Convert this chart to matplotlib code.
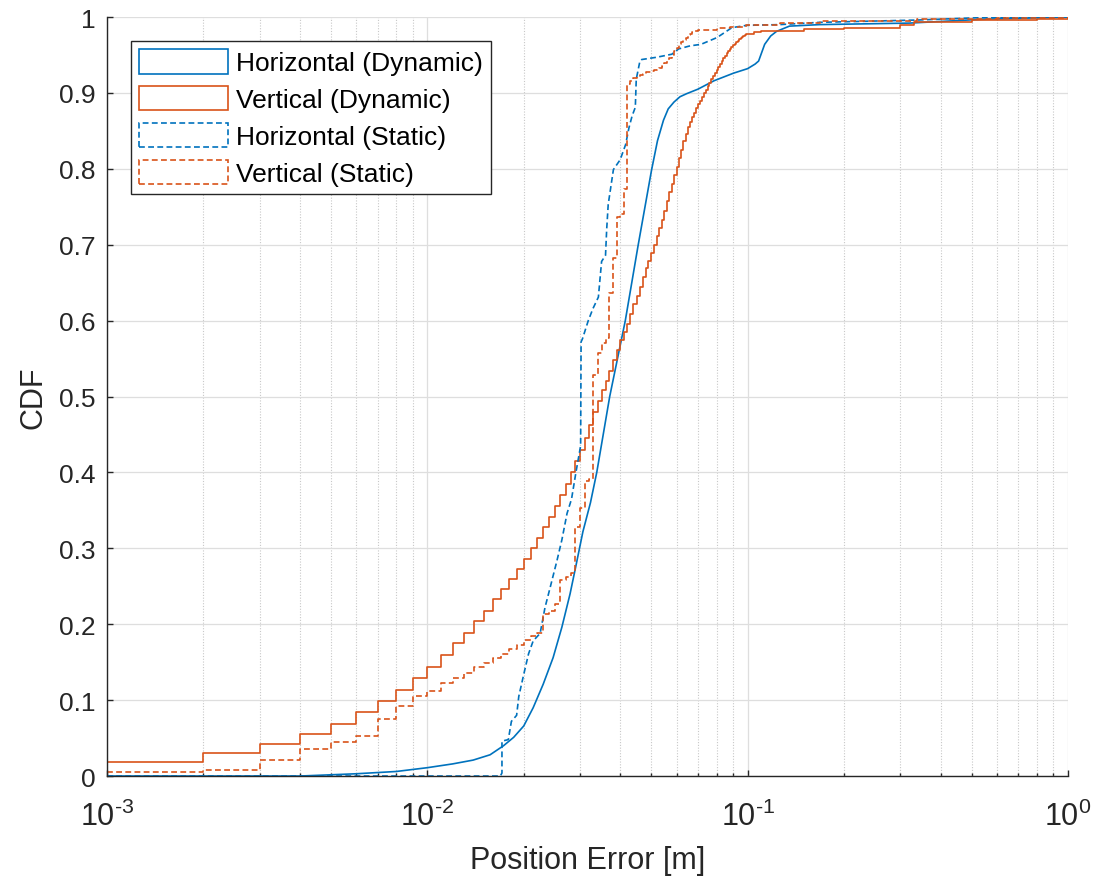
import numpy as np
import matplotlib
matplotlib.use("Agg")
import matplotlib.pyplot as plt
from matplotlib.patches import Patch

plt.rcParams['font.family'] = ['Liberation Sans', 'DejaVu Sans']
plt.rcParams['mathtext.fontset'] = 'custom'
plt.rcParams['mathtext.rm'] = 'Liberation Sans'
plt.rcParams['mathtext.it'] = 'Liberation Sans'

BLUE = '#0072BD'
ORANGE = '#D95319'
AXCOL = '#262626'

# vertical errors are quantised to whole millimetres -> CDF value at each mm
vert_dyn_mm = list(range(1, 101)) + [105, 110, 120, 150, 200, 300, 330, 500, 800, 1000]
vert_dyn_cdf = [
    0.018, 0.030, 0.042, 0.055, 0.069, 0.084, 0.099, 0.113, 0.129, 0.144,
    0.160, 0.175, 0.189, 0.204, 0.218, 0.233, 0.247, 0.260, 0.273, 0.286,
    0.300, 0.314, 0.328, 0.341, 0.356, 0.370, 0.385, 0.400, 0.415, 0.430,
    0.445, 0.463, 0.479, 0.494, 0.508, 0.521, 0.534, 0.548, 0.561, 0.574,
    0.585, 0.596, 0.609, 0.622, 0.633, 0.644, 0.658, 0.669, 0.678, 0.689,
    0.700, 0.711, 0.722, 0.733, 0.745, 0.757, 0.769, 0.780, 0.792, 0.803,
    0.814, 0.825, 0.836, 0.846, 0.855, 0.862, 0.868, 0.874, 0.880, 0.885,
    0.890, 0.895, 0.900, 0.904, 0.909, 0.913, 0.918, 0.922, 0.926, 0.930,
    0.934, 0.938, 0.942, 0.946, 0.949, 0.952, 0.955, 0.958, 0.961, 0.963,
    0.965, 0.967, 0.969, 0.971, 0.972, 0.974, 0.975, 0.976, 0.977, 0.978,
    0.980, 0.981, 0.982, 0.984, 0.986, 0.989, 0.994, 0.996, 0.998, 1.000,
]

vert_sta_mm = list(range(1, 71)) + [80, 88, 99, 126, 168, 337, 600, 1000]
vert_sta_cdf = [
    0.005, 0.008, 0.021, 0.036, 0.045, 0.053, 0.075, 0.092, 0.105, 0.112,
    0.123, 0.129, 0.136, 0.143, 0.149, 0.155, 0.161, 0.167, 0.173, 0.179,
    0.185, 0.189, 0.214, 0.217, 0.227, 0.258, 0.262, 0.268, 0.328, 0.353,
    0.389, 0.392, 0.528, 0.558, 0.570, 0.577, 0.636, 0.682, 0.736, 0.740,
    0.773, 0.912, 0.916, 0.920, 0.921, 0.923, 0.925, 0.927, 0.928, 0.929,
    0.930, 0.931, 0.933, 0.936, 0.939, 0.942, 0.946, 0.950, 0.955, 0.959,
    0.964, 0.967, 0.970, 0.973, 0.976, 0.978, 0.980, 0.981, 0.982, 0.983,
    0.985, 0.987, 0.990, 0.992, 0.995, 0.997, 0.999, 1.000,
]

# horizontal errors are not quantised, read as a curve
horiz_dyn_mm = [1, 4.0, 6.0, 8.0, 10.0, 12.0, 13.9, 15.7, 17.3, 18.6, 20.0, 21.4,
                23.0, 24.7, 26.3, 27.9, 29.2, 30.6, 32.3, 33.8, 37.1, 41.5, 45.5,
                50.1, 52.3, 54.6, 56.5, 58.9, 61.5, 64.5, 70.0, 78.5, 90.3, 100,
                105.5, 108.2, 113, 118, 123, 135, 168, 320, 540, 1000]
horiz_dyn_cdf = [0.0, 0.0, 0.003, 0.006, 0.011, 0.016, 0.021, 0.028, 0.040, 0.051,
                 0.066, 0.090, 0.121, 0.156, 0.196, 0.240, 0.280, 0.322, 0.360,
                 0.400, 0.500, 0.600, 0.699, 0.798, 0.837, 0.864, 0.879, 0.888,
                 0.895, 0.899, 0.905, 0.916, 0.926, 0.932, 0.938, 0.942, 0.964,
                 0.975, 0.981, 0.988, 0.990, 0.992, 0.997, 1.000]

horiz_sta_mm = [1, 16.9, 17.1, 17.1, 17.9, 18.3, 19.0, 19.3, 20.0, 20.7, 21.4, 22.5,
                23.3, 24.2, 25.4, 26.3, 27.3, 28.2, 29.1, 30.1, 30.2, 30.5, 31.8,
                32.9, 34.2, 34.6, 35.0, 36.0, 36.3, 36.7, 38.1, 40.0, 41.6, 42.6,
                43.6, 44.6, 44.9, 46.1, 46.7, 52.0, 58.0, 60.9, 66.1, 71.5, 80.3,
                89.3, 99.2, 126, 168, 337, 520, 1000]
horiz_sta_cdf = [0.0, 0.0, 0.004, 0.046, 0.048, 0.072, 0.080, 0.105, 0.134, 0.161,
                 0.178, 0.188, 0.222, 0.249, 0.284, 0.311, 0.346, 0.365, 0.400,
                 0.435, 0.572, 0.576, 0.600, 0.616, 0.631, 0.655, 0.678, 0.686,
                 0.720, 0.753, 0.799, 0.812, 0.832, 0.854, 0.870, 0.881, 0.918,
                 0.942, 0.944, 0.947, 0.951, 0.958, 0.962, 0.964, 0.973, 0.986,
                 0.989, 0.990, 0.993, 0.996, 0.999, 1.000]

labels = ['Horizontal (Dynamic)', 'Vertical (Dynamic)', 'Horizontal (Static)', 'Vertical (Static)']
y_ticks = [0, 0.1, 0.2, 0.3, 0.4, 0.5, 0.6, 0.7, 0.8, 0.9, 1]
y_ticklabels = ['0', '0.1', '0.2', '0.3', '0.4', '0.5', '0.6', '0.7', '0.8', '0.9', '1']
x_ticks = [1e-3, 1e-2, 1e-1, 1e0]
x_ticklabels = [r'$\mathdefault{10^{\text{-}3}}$', r'$\mathdefault{10^{\text{-}2}}$',
                r'$\mathdefault{10^{\text{-}1}}$', r'$\mathdefault{10^{0}}$']

fig = plt.figure(figsize=(10.93, 8.79), dpi=100)
ax = fig.add_axes([0.0979, 0.1160, 0.8792, 0.8635])

lw = 1.2
dash = (3.5, 2.0)
ax.plot(np.array(horiz_dyn_mm) / 1000, horiz_dyn_cdf, color=BLUE, lw=lw)
ax.plot(np.array(vert_dyn_mm) / 1000, vert_dyn_cdf, color=ORANGE, lw=lw, drawstyle='steps-post')
ax.plot(np.array(horiz_sta_mm) / 1000, horiz_sta_cdf, color=BLUE, lw=lw, linestyle=(0, dash))
ax.plot(np.array(vert_sta_mm) / 1000, vert_sta_cdf, color=ORANGE, lw=lw, linestyle=(0, dash),
        drawstyle='steps-post')

ax.set_xscale('log')
ax.set_xlim(1e-3, 1)
ax.set_ylim(0, 1)
ax.set_xticks(x_ticks)
ax.set_xticklabels(x_ticklabels)
ax.set_yticks(y_ticks)
ax.set_yticklabels(y_ticklabels)

ax.grid(True, which='major', color='#dedede', lw=0.9, linestyle='-')
ax.grid(True, which='minor', axis='x', color='#c8c8c8', lw=0.8, linestyle=(0, (1, 1.5)))
ax.set_axisbelow(True)

for side in ['top', 'right']:
    ax.spines[side].set_visible(False)
for side in ['left', 'bottom']:
    ax.spines[side].set_color(AXCOL)
    ax.spines[side].set_linewidth(1.0)

ax.tick_params(axis='both', which='major', direction='in', length=4, width=1.0,
               color=AXCOL, labelcolor=AXCOL, labelsize=19)
ax.tick_params(axis='x', which='minor', direction='in', length=2.5, width=1.0, color=AXCOL)
ax.tick_params(axis='x', which='major', pad=18, labelsize=22)
ax.tick_params(axis='y', which='major', pad=8)

ax.set_xlabel('Position Error [m]', fontsize=22, color=AXCOL, labelpad=9)
ax.set_ylabel('CDF', fontsize=22, color=AXCOL, labelpad=8)

handles = [
    Patch(facecolor='none', edgecolor=BLUE, lw=lw),
    Patch(facecolor='none', edgecolor=ORANGE, lw=lw),
    Patch(facecolor='none', edgecolor=BLUE, lw=lw, linestyle=(0, dash)),
    Patch(facecolor='none', edgecolor=ORANGE, lw=lw, linestyle=(0, dash)),
]
leg = ax.legend(handles, labels, loc='upper left', bbox_to_anchor=(0.025, 0.968),
                borderaxespad=0, fontsize=19, frameon=True, fancybox=False,
                edgecolor=AXCOL, framealpha=1, handlelength=3.37, handleheight=1.05,
                handletextpad=0.3, labelspacing=0.4, borderpad=0.3)
leg.get_frame().set_linewidth(1.0)

fig.savefig('out.png', dpi=100)
